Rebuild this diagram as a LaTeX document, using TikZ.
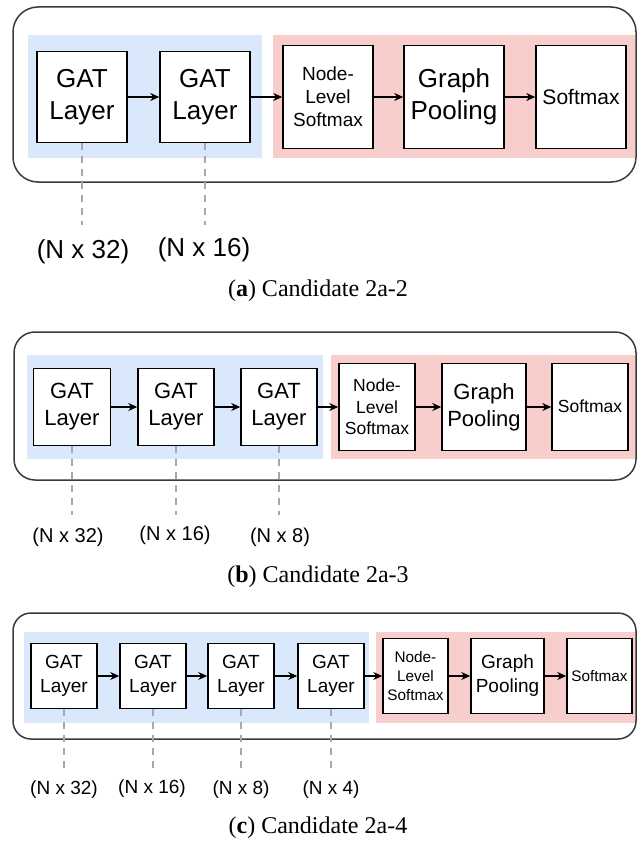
\documentclass[tikz,border=0pt]{standalone}
\usepackage{fontspec}
\setmainfont{Liberation Serif}
\newfontfamily\arial{Liberation Sans}
\usetikzlibrary{arrows.meta}
\definecolor{bluebg}{HTML}{DAE8FC}
\definecolor{pinkbg}{HTML}{F8CECC}
\definecolor{dashgray}{HTML}{A8A8A8}
\definecolor{framegray}{HTML}{3A3A3A}
\tikzset{
  blk/.style={draw=black, line width=1.5pt, fill=white, align=center, inner sep=0pt},
  flow/.style={line width=1.6pt, -{Stealth[length=9pt,width=8pt]}},
  guide/.style={draw=dashgray, line width=2pt, dash pattern=on 7pt off 6pt},
  frame/.style={draw=framegray, line width=1.5pt},
  capt/.style={font=\fontsize{24}{28}\selectfont, inner sep=0pt},
  fa/.style={font=\arial\fontsize{26}{32}\selectfont},
  fas/.style={font=\arial\fontsize{19}{23}\selectfont},
  fasm/.style={font=\arial\fontsize{21}{25}\selectfont},
  fb/.style={font=\arial\fontsize{22}{27}\selectfont},
  fbs/.style={font=\arial\fontsize{17.5}{21.5}\selectfont},
  fc/.style={font=\arial\fontsize{19}{24}\selectfont},
  fcs/.style={font=\arial\fontsize{15.3}{19}\selectfont},
  lbla/.style={font=\arial\fontsize{26}{30}\selectfont, inner sep=0pt},
  lblb/.style={font=\arial\fontsize{20}{24}\selectfont, inner sep=0pt},
  lblc/.style={font=\arial\fontsize{19}{23}\selectfont, inner sep=0pt}
}
\begin{document}
\begin{tikzpicture}[x=1pt,y=-1pt]
\useasboundingbox (0,0) rectangle (637,848);

% ---------------- Panel (a) ----------------
\fill[bluebg] (28,35) rectangle (262,158);
\fill[pinkbg] (273,35) rectangle (635,158);
\draw[frame, rounded corners=25pt] (13,7) rectangle (636,182);

\node[blk, fa, minimum width=90pt, minimum height=91pt] (a1) at (82,97) {GAT\\Layer};
\node[blk, fa, minimum width=90pt, minimum height=91pt] (a2) at (205,97) {GAT\\Layer};
\node[blk, fas, minimum width=90pt, minimum height=103pt] (a3) at (328,97) {Node-\\Level\\Softmax};
\node[blk, fa, minimum width=100pt, minimum height=103pt] (a4) at (454,97) {Graph\\Pooling};
\node[blk, fasm, minimum width=90pt, minimum height=103pt, text depth=1pt] (a5) at (581,97) {Softmax};

\draw[flow] (a1) -- (a2);
\draw[flow] (a2) -- (a3);
\draw[flow] (a3) -- (a4);
\draw[flow] (a4) -- (a5);

\coordinate (ae1) at (82,225);
\coordinate (ae2) at (205,225);
\draw[guide] (a1.south) -- (ae1);
\draw[guide] (a2.south) -- (ae2);
\node[lbla] (la1) at (83,252) {(N x 32)};
\node[lbla] (la2) at (204,250) {(N x 16)};
\node[capt] (capa) at (318,291) {(\textbf{a}) Candidate 2a-2};

% ---------------- Panel (b) ----------------
\fill[bluebg] (27,355) rectangle (323,459);
\fill[pinkbg] (331,355) rectangle (636,459);
\draw[frame, rounded corners=21pt] (14,332) rectangle (636,480);

\node[blk, fb, minimum width=77pt, minimum height=77pt] (b1) at (72,407) {GAT\\Layer};
\node[blk, fb, minimum width=76pt, minimum height=77pt] (b2) at (176,407) {GAT\\Layer};
\node[blk, fb, minimum width=76pt, minimum height=77pt] (b3) at (279,407) {GAT\\Layer};
\node[blk, fbs, minimum width=76pt, minimum height=87pt] (b4) at (377,407) {Node-\\Level\\Softmax};
\node[blk, fb, minimum width=84pt, minimum height=87pt] (b5) at (484,407) {Graph\\Pooling};
\node[blk, fbs, minimum width=76pt, minimum height=87pt, text depth=1pt] (b6) at (590,407) {Softmax};

\draw[flow] (b1) -- (b2);
\draw[flow] (b2) -- (b3);
\draw[flow] (b3) -- (b4);
\draw[flow] (b4) -- (b5);
\draw[flow] (b5) -- (b6);

\coordinate (be1) at (72,515);
\coordinate (be2) at (176,515);
\coordinate (be3) at (279,515);
\draw[guide] (b1.south) -- (be1);
\draw[guide] (b2.south) -- (be2);
\draw[guide] (b3.south) -- (be3);
\node[lblb] (lb1) at (68,537) {(N x 32)};
\node[lblb] (lb2) at (175,535) {(N x 16)};
\node[lblb] (lb3) at (280,537) {(N x 8)};
\node[capt] (capb) at (318,577) {(\textbf{b}) Candidate 2a-3};

% ---------------- Panel (c) ----------------
\fill[bluebg] (24,632) rectangle (369,723);
\fill[pinkbg] (376,632) rectangle (636,723);
\draw[frame, rounded corners=18pt] (13,613) rectangle (636,739);

\node[blk, fc, minimum width=66pt, minimum height=65pt] (c1) at (64,676) {GAT\\Layer};
\node[blk, fc, minimum width=66pt, minimum height=65pt] (c2) at (153,676) {GAT\\Layer};
\node[blk, fc, minimum width=66pt, minimum height=65pt] (c3) at (241,676) {GAT\\Layer};
\node[blk, fc, minimum width=66pt, minimum height=65pt] (c4) at (331,676) {GAT\\Layer};
\node[blk, fcs, minimum width=65pt, minimum height=75pt] (c5) at (415.5,676) {Node-\\Level\\Softmax};
\node[blk, fc, minimum width=73pt, minimum height=75pt] (c6) at (507.5,676) {Graph\\Pooling};
\node[blk, fcs, minimum width=65pt, minimum height=75pt, text depth=1pt] (c7) at (599.5,676) {Softmax};

\draw[flow] (c1) -- (c2);
\draw[flow] (c2) -- (c3);
\draw[flow] (c3) -- (c4);
\draw[flow] (c4) -- (c5);
\draw[flow] (c5) -- (c6);
\draw[flow] (c6) -- (c7);

\coordinate (ce1) at (64,772);
\coordinate (ce2) at (153,772);
\coordinate (ce3) at (241,772);
\coordinate (ce4) at (331,772);
\draw[guide] (c1.south) -- (ce1);
\draw[guide] (c2.south) -- (ce2);
\draw[guide] (c3.south) -- (ce3);
\draw[guide] (c4.south) -- (ce4);
\node[lblc] (lc1) at (64,790) {(N x 32)};
\node[lblc] (lc2) at (152,789) {(N x 16)};
\node[lblc] (lc3) at (241,790) {(N x 8)};
\node[lblc] (lc4) at (331,790) {(N x 4)};
\node[capt] (capc) at (318,828) {(\textbf{c}) Candidate 2a-4};
\end{tikzpicture}
\end{document}
